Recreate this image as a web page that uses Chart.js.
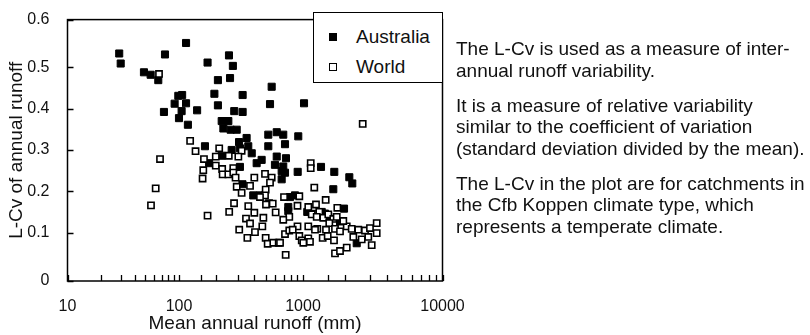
<!DOCTYPE html>
<html>
<head>
<meta charset="utf-8">
<script src="https://cdn.jsdelivr.net/npm/chart.js@4.4.1/dist/chart.umd.min.js"></script>
<style>
  html, body { margin: 0; padding: 0; background: #fff; }
  body {
    width: 810px; height: 335px; position: relative; overflow: hidden;
    font-family: "Liberation Sans", Arial, Helvetica, sans-serif; color: #111;
  }
  #plot { position: absolute; left: 0; top: 0; }
  #legend {
    position: absolute; left: 313px; top: 12px; width: 128px; height: 69px;
    border: 1.5px solid #000; background: #fff; font-size: 19px;
  }
  #legend .row { position: absolute; left: 0; height: 22px; line-height: 22px; white-space: nowrap; }
  #legend .mark { position: absolute; left: 15px; top: 7px; width: 8px; height: 8px; box-sizing: border-box; }
  #legend .lbl { position: absolute; left: 42px; top: 0; }
  .notes {
    position: absolute; left: 456px; top: 38px; font-size: 19px; line-height: 21.5px;
    white-space: nowrap;
  }
  .notes p { margin: 0 0 13.5px 0; }
</style>
</head>
<body>
<canvas id="plot" width="480" height="335"></canvas>

<div id="legend">
  <div class="row" style="top:13px"><span class="mark" style="background:#000"></span><span class="lbl">Australia</span></div>
  <div class="row" style="top:43px"><span class="mark" style="border:1.6px solid #000;background:#fff"></span><span class="lbl">World</span></div>
</div>

<div class="notes">
  <p>The L-Cv is used as a measure of inter-<br>annual runoff variability.</p>
  <p>It is a measure of relative variability<br>similar to the coefficient of variation<br>(standard deviation divided by the mean).</p>
  <p>The L-Cv in the plot are for catchments in<br>the Cfb Koppen climate type, which<br>represents a temperate climate.</p>
</div>

<script>
// Mean annual runoff (mm) and L-Cv per catchment
const australiaRunoff = [29.1, 30, 74.9, 114, 170, 253, 272, 48.5, 55.7, 65.2,
  206, 258, 559, 193, 326, 98.6, 106, 91.4, 114, 206,
  542, 1017, 73.3, 105, 140, 279, 326, 100, 118, 221,
  250, 228, 261, 292, 525, 614, 693, 916, 162, 305,
  351, 362, 525, 266, 716, 175, 221, 310, 386, 310,
  423, 464, 614, 729, 594, 673, 716, 673, 906, 1346,
  1676, 2148, 2256, 1649, 325, 397, 450, 785, 862, 761,
  761, 1073, 1362, 1438, 1968, 1518, 1842, 2427, 693];
const australiaLcv = [0.529, 0.508, 0.527, 0.551, 0.510, 0.525, 0.503, 0.488, 0.482, 0.469,
  0.469, 0.474, 0.453, 0.436, 0.433, 0.431, 0.433, 0.412, 0.413, 0.408,
  0.411, 0.413, 0.392, 0.394, 0.396, 0.394, 0.392, 0.377, 0.361, 0.370,
  0.370, 0.352, 0.349, 0.349, 0.337, 0.343, 0.337, 0.333, 0.309, 0.319,
  0.329, 0.309, 0.309, 0.300, 0.314, 0.268, 0.286, 0.304, 0.292, 0.259,
  0.268, 0.276, 0.284, 0.280, 0.264, 0.249, 0.245, 0.229, 0.247, 0.259,
  0.247, 0.234, 0.219, 0.205, 0.217, 0.190, 0.190, 0.186, 0.190, 0.162,
  0.152, 0.150, 0.150, 0.146, 0.158, 0.138, 0.127, 0.078, 0.260];

const worldRunoff = [66.2, 2679, 123, 136, 211, 320, 67.6, 61.8, 56.1, 159,
  198, 252, 301, 157, 155, 198, 223, 274, 225, 250,
  274, 286, 292, 320, 374, 405, 170, 254, 278, 362,
  405, 347, 374, 306, 410, 356, 494, 559, 542, 1136,
  1136, 500, 1205, 494, 450, 532, 703, 934, 1454, 479,
  470, 503, 570, 602, 903, 775, 693, 1091, 1239, 1185,
  1309, 1762, 500, 519, 576, 637, 716, 775, 903, 725,
  1155, 1254, 1398, 1518, 1649, 1745, 1543, 1091, 1266, 1462,
  1696, 1842, 934, 977, 1091, 1005, 1122, 1219, 1384, 1503,
  1668, 2058, 2234, 2491, 2783, 3020, 3375, 3375, 3108, 2294,
  2635, 2938, 1696, 1842, 2058, 1945, 826, 653];
const worldLcv = [0.484, 0.363, 0.322, 0.297, 0.304, 0.298, 0.278, 0.207, 0.166, 0.278,
  0.284, 0.286, 0.284, 0.251, 0.231, 0.262, 0.254, 0.256, 0.241, 0.241,
  0.245, 0.233, 0.211, 0.196, 0.213, 0.233, 0.141, 0.150, 0.171, 0.164,
  0.148, 0.134, 0.122, 0.107, 0.101, 0.089, 0.242, 0.233, 0.221, 0.268,
  0.256, 0.204, 0.209, 0.190, 0.186, 0.171, 0.186, 0.188, 0.179, 0.136,
  0.115, 0.168, 0.170, 0.149, 0.165, 0.138, 0.131, 0.162, 0.168, 0.146,
  0.150, 0.160, 0.089, 0.077, 0.079, 0.079, 0.097, 0.105, 0.115, 0.054,
  0.144, 0.138, 0.136, 0.144, 0.133, 0.138, 0.123, 0.115, 0.109, 0.107,
  0.109, 0.103, 0.093, 0.084, 0.088, 0.079, 0.081, 0.107, 0.089, 0.093,
  0.084, 0.115, 0.109, 0.107, 0.105, 0.111, 0.123, 0.099, 0.074, 0.091,
  0.086, 0.091, 0.057, 0.062, 0.069, 0.128, 0.107, 0.079];

const runoffLabels = [10, 100, 1000, 10000];
const lcvTicks = [0, 0.1, 0.2, 0.3, 0.4, 0.5, 0.6];

// Axis breakpoints: where each labelled value sits along the axis (0..1).
// The decades and the end intervals of the y axis are not equally long.
const X_BREAKS = [[1, 0], [2, 0.2973], [3, 0.628], [4, 1]];       // log10(mm)
const Y_BREAKS = [[0, 0], [0.1, 0.1852], [0.5, 0.8174], [0.6, 1]];

function toFraction(breaks, v) {
  for (let i = 1; i < breaks.length; i++) {
    const [a0, f0] = breaks[i - 1], [a1, f1] = breaks[i];
    if (v <= a1 || i === breaks.length - 1) return f0 + (v - a0) / (a1 - a0) * (f1 - f0);
  }
}
function fromFraction(breaks, f) {
  for (let i = 1; i < breaks.length; i++) {
    const [a0, f0] = breaks[i - 1], [a1, f1] = breaks[i];
    if (f <= f1 || i === breaks.length - 1) return a0 + (f - f0) / (f1 - f0) * (a1 - a0);
  }
}

const LogScale = Chart.registry.getScale('logarithmic');
const LinScale = Chart.registry.getScale('linear');

class RunoffScale extends LogScale {
  getPixelForValue(value) {
    if (value === undefined || value === 0) value = this.min;
    if (value === null || isNaN(value)) return NaN;
    return this.getPixelForDecimal(toFraction(X_BREAKS, Math.log10(value)));
  }
  getValueForPixel(pixel) {
    return Math.pow(10, fromFraction(X_BREAKS, this.getDecimalForPixel(pixel)));
  }
}
RunoffScale.id = 'runoffLog';

class LcvScale extends LinScale {
  getPixelForValue(value) {
    if (value === null || value === undefined || isNaN(value)) return NaN;
    return this.getPixelForDecimal(toFraction(Y_BREAKS, value));
  }
  getValueForPixel(pixel) {
    return fromFraction(Y_BREAKS, this.getDecimalForPixel(pixel));
  }
}
LcvScale.id = 'lcvLinear';

Chart.register(RunoffScale, LcvScale);

const toPoints = (xs, ys) => xs.map((x, i) => ({ x: x, y: ys[i] }));

// box around the plot plus short inward tick marks on the left and bottom
const frame = {
  id: 'frame',
  beforeDatasetsDraw(chart) {
    const { ctx, chartArea: a, scales } = chart;
    ctx.save();
    ctx.strokeStyle = '#000';
    ctx.lineWidth = 1.5;
    ctx.strokeRect(a.left, a.top, a.right - a.left, a.bottom - a.top);
    ctx.lineWidth = 1.3;
    ctx.beginPath();
    scales.x.ticks.forEach(t => {
      const px = Math.round(scales.x.getPixelForValue(t.value)) + 0.5;
      ctx.moveTo(px, a.bottom);
      ctx.lineTo(px, a.bottom - 6);
    });
    scales.y.ticks.forEach(t => {
      const py = Math.round(scales.y.getPixelForValue(t.value)) + 0.5;
      ctx.moveTo(a.left, py);
      ctx.lineTo(a.left + 6, py);
    });
    ctx.stroke();
    ctx.restore();
  }
};

const tickFont = { family: '"Liberation Sans", Arial, sans-serif', size: 16 };
const titleFont = { family: '"Liberation Sans", Arial, sans-serif', size: 19 };

new Chart(document.getElementById('plot'), {
  type: 'scatter',
  data: {
    datasets: [
      {
        label: 'Australia',
        data: toPoints(australiaRunoff, australiaLcv),
        pointStyle: 'rect',
        pointRadius: 5,
        backgroundColor: '#000',
        borderColor: '#000',
        borderWidth: 1,
        order: 1
      },
      {
        label: 'World',
        data: toPoints(worldRunoff, worldLcv),
        pointStyle: 'rect',
        pointRadius: 4.4,
        backgroundColor: '#fff',
        borderColor: '#000',
        borderWidth: 1.6,
        order: 0
      }
    ]
  },
  options: {
    responsive: false,
    animation: false,
    events: [],
    layout: { padding: { top: 13, right: 37.5, left: 0, bottom: 0 } },
    plugins: {
      legend: { display: false },
      tooltip: { enabled: false }
    },
    scales: {
      x: {
        type: 'runoffLog',
        min: 10,
        max: 10000,
        grid: { display: false },
        border: { display: false },
        afterFit: s => { s.height = 54; },
        ticks: {
          autoSkip: false,
          maxRotation: 0,
          padding: 8,
          color: '#111',
          font: tickFont,
          callback: v => runoffLabels.includes(v) ? String(v) : ''
        },
        title: {
          display: true,
          text: 'Mean annual runoff (mm)',
          color: '#111',
          font: titleFont,
          padding: { top: 0, bottom: 0 }
        }
      },
      y: {
        type: 'lcvLinear',
        min: 0,
        max: 0.6,
        grid: { display: false },
        border: { display: false },
        afterFit: s => { s.width = 67.5; },
        afterBuildTicks: s => { s.ticks = lcvTicks.map(v => ({ value: v })); },
        ticks: {
          padding: 10,
          color: '#111',
          font: tickFont,
          callback: v => String(+v.toFixed(1))
        },
        title: {
          display: true,
          text: 'L-Cv of annual runoff',
          color: '#111',
          font: titleFont,
          padding: { top: 5, bottom: 0 }
        }
      }
    }
  },
  plugins: [frame]
});
</script>
</body>
</html>
